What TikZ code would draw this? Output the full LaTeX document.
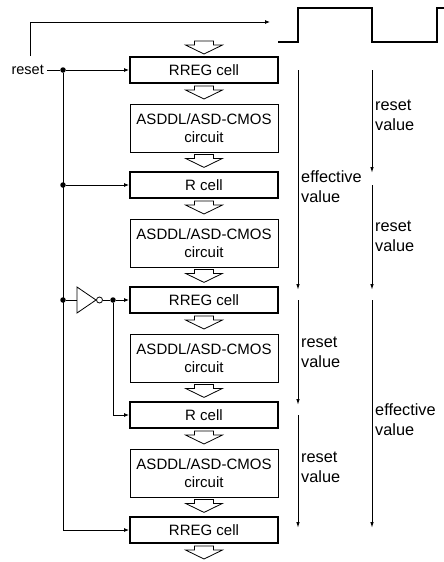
\documentclass[tikz,border=0pt]{standalone}
\usepackage{fontspec}
\setmainfont{Liberation Sans}
\usetikzlibrary{arrows.meta,calc}
\begin{document}
\begin{tikzpicture}[x=1pt,y=-1pt,
  cell/.style={draw, line width=2pt, minimum width=148pt, minimum height=26pt, inner sep=0pt, font=\fontsize{15}{18}\selectfont},
  circ/.style={draw, line width=0.8pt, minimum width=148pt, minimum height=48pt, inner sep=0pt, align=center, font=\fontsize{15}{18}\selectfont},
  wire/.style={line width=0.8pt},
  feed/.style={wire, -{Latex[length=5pt,width=4pt]}},
  dot/.style={circle, fill, inner sep=0pt, minimum size=5.5pt},
  span/.style={line width=1pt, -{Latex[length=6pt,width=3.5pt]}},
  lbl/.style={anchor=west, align=left, inner sep=0pt, font=\fontsize{16.3}{20}\selectfont},
  harrow/.pic={\draw[line width=0.8pt, fill=white] (-9.5,0) -- (9.5,0) -- (9.5,4) -- (18.5,4) -- (0,13) -- (-18.5,4) -- (-9.5,4) -- cycle;}
]
\useasboundingbox (0,0) rectangle (444,562);

% chain of blocks
\node[cell] (c1) at (204,70) {RREG cell};
\node[circ] (a1) at (204,128) {ASDDL/ASD-CMOS\\circuit};
\node[cell] (c2) at (204,185) {R cell};
\node[circ] (a2) at (204,243) {ASDDL/ASD-CMOS\\circuit};
\node[cell] (c3) at (204,300) {RREG cell};
\node[circ] (a3) at (204,358) {ASDDL/ASD-CMOS\\circuit};
\node[cell] (c4) at (204,415) {R cell};
\node[circ] (a4) at (204,473) {ASDDL/ASD-CMOS\\circuit};
\node[cell] (c5) at (204,530) {RREG cell};

% hollow data-flow arrows
\pic at (204,41) {harrow};
\pic at ($(c1.south)+(0,2)$) {harrow};
\pic at ($(a1.south)+(0,2)$) {harrow};
\pic at ($(c2.south)+(0,2)$) {harrow};
\pic at ($(a2.south)+(0,2)$) {harrow};
\pic at ($(c3.south)+(0,2)$) {harrow};
\pic at ($(a3.south)+(0,2)$) {harrow};
\pic at ($(c4.south)+(0,2)$) {harrow};
\pic at ($(a4.south)+(0,2)$) {harrow};
\pic at ($(c5.south)+(0,2)$) {harrow};

% reset wiring
\node[anchor=east, inner sep=0pt, font=\fontsize{14.5}{17}\selectfont] (rst) at (44,70) {reset};
\node[dot] (j1) at (63,70) {};
\node[dot] (j2) at (63,185) {};
\node[dot] (j3) at (63,300) {};
\node[dot] (j4) at (113,300) {};
\coordinate (tp) at (30,56);
\coordinate (wv) at (270,22);
\draw[feed] (tp) |- (wv);
\draw[wire] ($(rst.east)+(3,0)$) -- (j1);
\draw[feed] (j1) -- (c1.west);
\draw[feed] (j1) |- (c5.west);
\draw[feed] (j2) -- (c2.west);
% inverter
\coordinate (invin) at (77,300);
\draw[wire] (77,287) -- (96,300) -- (77,313) -- cycle;
\node[circle, draw, line width=0.8pt, inner sep=0pt, minimum size=6pt] (bub) at (99.5,300) {};
\draw[wire] (j3) -- (invin);
\draw[wire] (bub) -- (j4);
\draw[feed] (j4) -- (c3.west);
\draw[feed] (j4) |- (c4.west);

% waveform
\draw[line width=1.1pt] (278,42) -- (298,42) -- (298,8) -- (372,8) -- (372,42) -- (437,42) -- (437,8) -- (444,8);

% timing columns
\coordinate (A0) at (298,70);
\coordinate (A1) at (298,290);
\coordinate (A2) at (298,300);
\coordinate (A3) at (298,405);
\coordinate (A4) at (298,415);
\coordinate (A5) at (298,528);
\coordinate (B0) at (372,70);
\coordinate (B1) at (372,173);
\coordinate (B2) at (372,185);
\coordinate (B3) at (372,290);
\coordinate (B4) at (372,300);
\coordinate (B5) at (372,528);
\draw[span] (A0) -- (A1);
\draw[span] (A2) -- (A3);
\draw[span] (A4) -- (A5);
\draw[span] (B0) -- (B1);
\draw[span] (B2) -- (B3);
\draw[span] (B4) -- (B5);

\node[lbl] (l1) at (375,115) {reset\\value};
\node[lbl] (l2) at (301,187) {effective\\value};
\node[lbl] (l3) at (375,236) {reset\\value};
\node[lbl] (l4) at (301,352) {reset\\value};
\node[lbl] (l5) at (375,420) {effective\\value};
\node[lbl] (l6) at (301,467) {reset\\value};
\end{tikzpicture}
\end{document}
